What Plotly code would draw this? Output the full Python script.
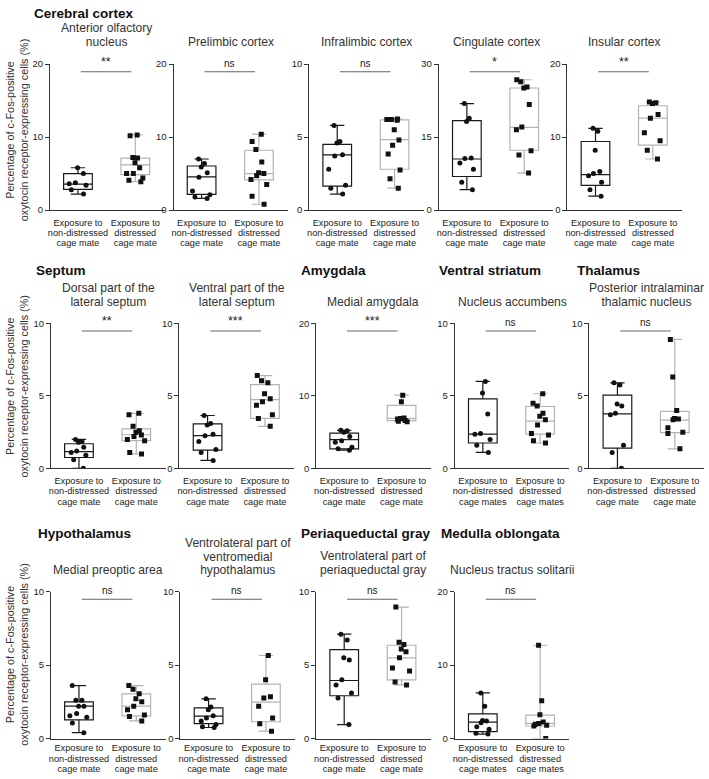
import plotly.graph_objects as go

W, H = 709, 779

# ---------------- data ----------------
region_headers = ["Cerebral cortex", "Septum", "Amygdala", "Ventral striatum", "Thalamus",
                  "Hypothalamus", "Periaqueductal gray", "Medulla oblongata"]

panel_titles = ["Anterior olfactory<br>nucleus", "Prelimbic cortex", "Infralimbic cortex",
                "Cingulate cortex", "Insular cortex",
                "Dorsal part of the<br>lateral septum", "Ventral part of the<br>lateral septum",
                "Medial amygdala", "Nucleus accumbens", "Posterior intralaminar<br>thalamic nucleus",
                "Medial preoptic area", "Ventrolateral part of<br>ventromedial<br>hypothalamus",
                "Ventrolateral part of<br>periaqueductal gray", "Nucleus tractus solitarii"]

y_max = [20, 20, 10, 30, 20, 10, 10, 20, 10, 10, 10, 10, 10, 20]
significance = ["**", "ns", "ns", "*", "**", "**", "***", "***", "ns", "ns", "ns", "ns", "ns", "ns"]

labels_mate = ["Exposure to<br>non-distressed<br>cage mate", "Exposure to<br>distressed<br>cage mate"]
labels_mates = ["Exposure to<br>non-distressed<br>cage mates", "Exposure to<br>distressed<br>cage mates"]
panel_labels = [labels_mate] * 8 + [labels_mates] + [labels_mate] * 4 + [labels_mates]

y_title = "Percentage of c-Fos-positive<br>oxytocin receptor-expressing cells (%)"

# individual animals, non-distressed (circles) and distressed (squares)
aon_nd = [5.8, 5.0, 3.75, 3.6, 3.4, 2.8, 2.2]
aon_d = [10.3, 10.2, 7.2, 7.15, 6.5, 5.8, 5.0, 5.0, 4.4, 4.1, 3.9]
prl_nd = [7.0, 6.4, 5.9, 5.1, 4.5, 2.6, 2.1, 1.8, 1.6]
prl_d = [10.4, 9.4, 8.3, 6.6, 5.1, 5.0, 4.7, 4.2, 3.5, 1.9, 0.8]
il_nd = [5.8, 4.7, 4.6, 3.8, 3.7, 2.8, 1.7, 1.5, 1.1]
il_d = [6.25, 6.2, 6.2, 6.15, 5.5, 4.8, 4.45, 3.85, 2.75, 2.15, 1.5]
cg_nd = [21.9, 18.9, 18.2, 10.7, 10.6, 9.7, 8.4, 5.7, 4.2]
cg_d = [26.8, 26.4, 25.3, 25.1, 21.7, 17.1, 16.5, 12.2, 11.3, 7.6]
ins_nd = [11.2, 10.8, 8.2, 5.3, 5.0, 4.7, 3.8, 2.8, 1.9]
ins_d = [14.8, 14.7, 14.6, 13.1, 12.6, 10.6, 9.5, 8.2, 7.0]
lsd_nd = [2.0, 1.85, 1.8, 1.45, 1.2, 1.1, 0.9, 0.6, 0.0]
lsd_d = [3.8, 3.7, 2.9, 2.6, 2.5, 2.3, 2.2, 2.0, 1.9, 1.1, 1.0]
lsv_nd = [3.65, 3.1, 3.0, 2.35, 2.25, 1.85, 1.3, 1.1, 0.55]
lsv_d = [6.4, 6.05, 5.9, 5.15, 4.8, 4.6, 4.35, 3.7, 3.45, 2.9]
mea_nd = [5.25, 5.2, 5.0, 4.4, 3.8, 3.6, 2.9, 2.7, 2.5]
mea_d = [10.1, 9.2, 6.95, 6.9, 6.8, 6.6, 6.5, 6.45]
nac_nd = [6.0, 5.2, 3.75, 2.4, 2.35, 2.0, 1.6, 1.1]
nac_d = [5.15, 4.5, 4.3, 3.8, 3.6, 3.35, 3.0, 2.4, 2.3, 1.9, 1.75]
pil_nd = [5.9, 5.75, 4.45, 4.3, 3.8, 3.7, 1.6, 1.1, 0.0]
pil_d = [8.9, 6.3, 4.0, 3.45, 3.4, 3.35, 2.8, 2.5, 2.4, 1.35]
mpoa_nd = [3.6, 2.6, 2.6, 2.2, 2.2, 1.7, 1.55, 1.45, 1.05, 0.4]
mpoa_d = [3.6, 3.35, 3.05, 2.7, 2.5, 2.2, 1.95, 1.6, 1.5, 1.2]
vmh_nd = [2.7, 2.15, 1.95, 1.55, 1.4, 1.2, 0.95, 0.8, 0.75]
vmh_d = [5.65, 4.0, 2.85, 2.75, 2.2, 1.4, 1.0, 0.5]
pag_nd = [7.1, 6.7, 5.5, 5.35, 4.0, 3.65, 3.1, 2.75, 0.95]
pag_d = [8.95, 6.55, 6.4, 6.1, 5.9, 5.5, 4.8, 4.6, 3.85, 3.65]
nts_nd = [6.2, 4.4, 2.45, 2.4, 2.15, 1.6, 1.25, 0.7, 0.6]
nts_d = [12.7, 5.15, 3.25, 2.25, 2.05, 1.95, 1.8, 1.7, 0.0]

nondistressed = [aon_nd, prl_nd, il_nd, cg_nd, ins_nd, lsd_nd, lsv_nd, mea_nd, nac_nd, pil_nd,
                 mpoa_nd, vmh_nd, pag_nd, nts_nd]
distressed = [aon_d, prl_d, il_d, cg_d, ins_d, lsd_d, lsv_d, mea_d, nac_d, pil_d,
              mpoa_d, vmh_d, pag_d, nts_d]

# box statistics as drawn in the reference
q1_nd = [2.84, 2.16, 1.64, 6.9, 3.4, 0.75, 1.26, 2.7, 1.75, 1.4, 1.27, 1.01, 2.91, 0.94]
median_nd = [3.56, 4.55, 3.78, 10.5, 4.85, 1.15, 2.26, 3.97, 2.36, 3.76, 2.21, 1.52, 3.95, 2.24]
q3_nd = [5.0, 6.04, 4.5, 18.4, 9.4, 1.7, 3.07, 4.87, 4.8, 5.06, 2.5, 2.09, 6.05, 3.36]
q1_d = [4.86, 4.15, 2.8, 12.3, 8.9, 1.92, 3.45, 6.6, 2.36, 2.47, 1.54, 1.14, 3.99, 1.7]
median_d = [6.2, 5.0, 4.83, 17.0, 12.6, 2.32, 4.74, 6.9, 3.26, 3.33, 2.21, 2.47, 5.49, 2.06]
q3_d = [7.12, 8.2, 6.18, 25.1, 14.3, 2.73, 5.78, 8.7, 4.27, 3.93, 3.04, 3.7, 6.35, 3.18]

# ---------------- layout geometry (pixels) ----------------
panel_row = [0, 0, 0, 0, 0, 1, 1, 1, 1, 1, 2, 2, 2, 2]
panel_left = [48, 172, 308, 438, 567, 49, 178, 315, 454, 589, 49, 179, 315, 454]
panel_width = 115
row_top = [59, 322, 594]
row_bottom = [207, 469, 743]
row_label_standoff = [5, 5, 2]
header_pos = [(30, 8), (32, 268), (298, 268), (436, 268), (575, 268),
              (34, 535), (298, 535), (438, 535)]
ytitle_center = [126, 386, 658]

FONT = "Liberation Sans, Arial, Helvetica, sans-serif"
ND_COLOR = "#1a1a1a"
D_COLOR = "#b3b3b3"
AXIS_COLOR = "#333333"
BOX_WIDTH = 0.5


def fx(px):
    return px / W


def fy(py):
    return 1 - py / H


def tight(text, size):
    """Wrap each line in a sized span so lines sit closer than plotly's default spacing."""
    return "<br>".join(f'<span style="font-size:{size}px">{line}</span>' for line in text.split("<br>"))


fig = go.Figure()
layout = {}
shapes = []
annotations = []

for i in range(14):
    n = i + 1
    xa = "x" if n == 1 else f"x{n}"
    ya = "y" if n == 1 else f"y{n}"
    xkey = "xaxis" if n == 1 else f"xaxis{n}"
    ykey = "yaxis" if n == 1 else f"yaxis{n}"
    r = panel_row[i]
    left = panel_left[i]
    cats = panel_labels[i]
    groups = [
        (cats[0], nondistressed[i], q1_nd[i], median_nd[i], q3_nd[i], ND_COLOR, "circle"),
        (cats[1], distressed[i], q1_d[i], median_d[i], q3_d[i], D_COLOR, "square"),
    ]
    for cat, vals, q1, med, q3, col, sym in groups:
        # box with whiskers from min to max
        fig.add_trace(go.Box(
            x=[cat], q1=[q1], median=[med], q3=[q3],
            lowerfence=[min(vals)], upperfence=[max(vals)],
            boxpoints=False, width=BOX_WIDTH, whiskerwidth=0.5,
            line=dict(color=col, width=1.2), fillcolor="rgba(0,0,0,0)",
            xaxis=xa, yaxis=ya, showlegend=False, hoverinfo="skip"))
        # individual points (box itself invisible)
        fig.add_trace(go.Box(
            x=[cat] * len(vals), y=vals,
            boxpoints="all", jitter=0.75, pointpos=0, width=BOX_WIDTH, whiskerwidth=0,
            line=dict(color="rgba(0,0,0,0)", width=0), fillcolor="rgba(0,0,0,0)",
            marker=dict(symbol=sym, size=5, color="#111111"),
            xaxis=xa, yaxis=ya, showlegend=False))

    layout[xkey] = dict(
        domain=[fx(left), fx(left + panel_width)], anchor=ya, type="category",
        categoryorder="array", categoryarray=cats, range=[-0.49, 1.51],
        tickmode="array", tickvals=cats, ticktext=[tight(c, 9.2) for c in cats],
        ticklabelstandoff=row_label_standoff[r],
        showline=True, linecolor=AXIS_COLOR, linewidth=1, ticks="", showgrid=False,
        zeroline=False, tickfont=dict(size=8.0, color="#222", family=FONT))
    layout[ykey] = dict(
        domain=[fy(row_bottom[r]), fy(row_top[r])], anchor=xa, range=[0, y_max[i]],
        tickmode="array", tickvals=[0, y_max[i] / 2, y_max[i]],
        ticks="outside", ticklen=4, tickcolor=AXIS_COLOR, tickwidth=1,
        showline=True, linecolor=AXIS_COLOR, linewidth=1, showgrid=False, zeroline=False,
        tickfont=dict(size=9.5, color="#222", family=FONT))

    # significance bar
    shapes.append(dict(type="line", xref=xa, yref=f"{ya} domain", x0=0.05, x1=0.93,
                       y0=0.948, y1=0.948, line=dict(color="#666", width=1.2)))
    sig_size = 10 if significance[i] == "ns" else 12.5
    annotations.append(dict(text=significance[i], xref=xa, yref=f"{ya} domain",
                            x=0.49, y=0.948, yshift=1, showarrow=False,
                            xanchor="center", yanchor="bottom",
                            font=dict(size=sig_size, color="#222", family=FONT)))
    # panel title
    annotations.append(dict(text=tight(panel_titles[i], 12.1), xref="paper", yref="paper",
                            x=fx(left + panel_width / 2), y=fy(row_top[r] - 13),
                            showarrow=False, xanchor="center", yanchor="bottom",
                            font=dict(size=10.5, color="#333", family=FONT)))

for text, (hx, hy) in zip(region_headers, header_pos):
    annotations.append(dict(text=f"<b>{text}</b>", xref="paper", yref="paper",
                            x=fx(hx), y=fy(hy), showarrow=False,
                            xanchor="left", yanchor="middle",
                            font=dict(size=13.5, color="#111", family=FONT)))

for yc in ytitle_center:
    annotations.append(dict(text=y_title, xref="paper", yref="paper",
                            x=fx(15), y=fy(yc), showarrow=False, textangle=-90,
                            xanchor="center", yanchor="middle",
                            font=dict(size=10.8, color="#333", family=FONT)))

fig.update_layout(
    width=W, height=H, margin=dict(l=0, r=0, t=0, b=0),
    paper_bgcolor="white", plot_bgcolor="white", boxmode="overlay",
    font=dict(family=FONT), shapes=shapes, annotations=annotations, **layout)

fig.write_html("out.html", config={"displayModeBar": False},
               post_script="document.body.style.margin='0';")
